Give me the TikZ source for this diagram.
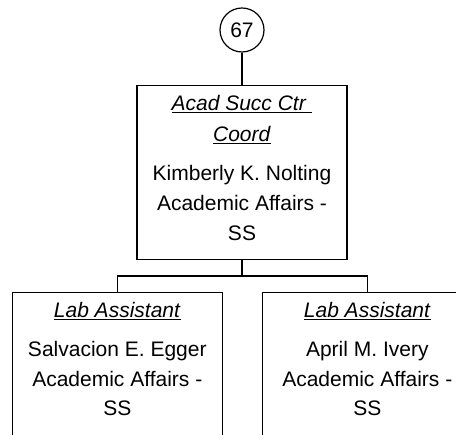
\documentclass[tikz,border=0pt]{standalone}
\usepackage{fontspec}
\setmainfont{Liberation Sans}
\begin{document}
\begin{tikzpicture}[x=1pt,y=-1pt,line width=1.2pt,
  box/.style={draw,rectangle,minimum width=210pt,inner sep=0pt},
  txt/.style={font=\fontsize{21}{25}\selectfont,inner sep=0pt,anchor=base},
  ttl/.style={txt},
  link/.style={draw,line width=1.2pt}]
\useasboundingbox (0,0) rectangle (456,435);
\clip (0,0) rectangle (456,435);
% top circle
\node[draw,circle,minimum size=44pt,inner sep=0pt,font=\fontsize{21}{25}\selectfont] (c) at (242,30) {67};
% main box
\node[box,minimum height=174pt,anchor=north] (m) at (242,85) {};
\node[ttl] (mt1) at (242,110.7) {\underline{\textit{Acad Succ Ctr\ }}};
\node[ttl] (mt2) at (242,141.7) {\underline{\textit{Coord}}};
\node[txt] (mn) at (242,180.7) {Kimberly K. Nolting};
\node[txt] (md) at (242,210.7) {Academic Affairs -};
\node[txt] (ms) at (242,241) {SS};
% child boxes
\node[box,minimum height=200pt,anchor=north] (l) at (117.3,292) {};
\node[box,minimum height=200pt,anchor=north] (r) at (367.3,292) {};
\node[ttl] (lt) at (117.3,317.7) {\underline{\textit{Lab Assistant}}};
\node[txt] (ln) at (117.3,356.7) {Salvacion E. Egger};
\node[txt] (ld) at (117.3,386.3) {Academic Affairs -};
\node[txt] (ls) at (117.3,416) {SS};
\node[ttl] (rt) at (367.3,317.7) {\underline{\textit{Lab Assistant}}};
\node[txt] (rn) at (367.3,356.7) {April M. Ivery};
\node[txt] (rd) at (367.3,386.3) {Academic Affairs -};
\node[txt] (rs) at (367.3,416) {SS};
% connectors
\coordinate (bus) at (242,276);
\draw[link] (c.south) -- (m.north);
\draw[link] (m.south) -- (bus);
\draw[link] (l.north) |- (bus) -| (r.north);
\end{tikzpicture}
\end{document}
